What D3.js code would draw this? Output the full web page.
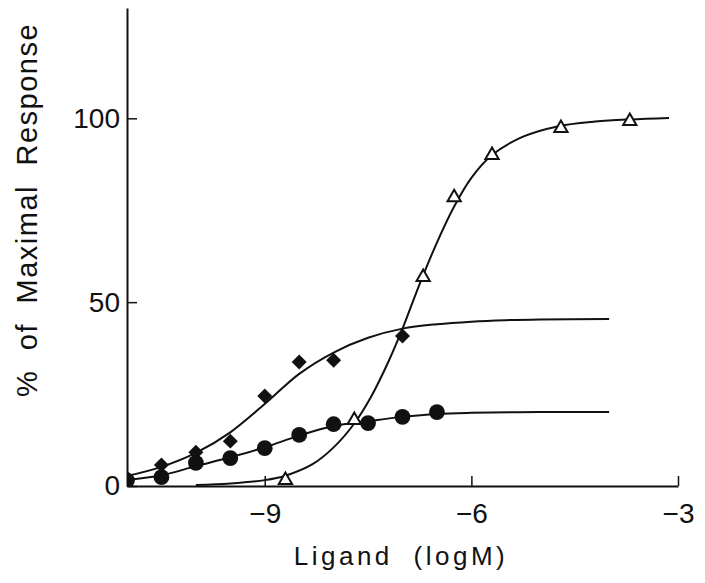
<!DOCTYPE html>
<html>
<head>
<meta charset="utf-8">
<script src="https://cdn.jsdelivr.net/npm/d3@7"></script>
<style>
  body { margin: 0; background: #fff; }
  text { font-family: "Liberation Sans", Arial, sans-serif; fill: #111; }
</style>
</head>
<body>
<script>
// Variables
const w = 705;
const h = 583;

// Tick values
const xTicks = [-9, -6, -3];
const yTicks = [0, 50, 100];

// Diamonds (filled)
const diamondX = [-11, -10.5, -10, -9.5, -9, -8.5, -8, -7];
const diamondY = [2.2, 5.7, 9.2, 12.2, 24.5, 33.7, 34.2, 40.8];

// Circles (filled)
const circleX = [-11, -10.5, -10, -9.5, -9, -8.5, -8, -7.5, -7, -6.5];
const circleY = [1.5, 2.4, 6.3, 7.6, 10.3, 13.9, 16.8, 17.1, 18.8, 20.1];

// Triangles (open)
const triangleX = [-8.7, -7.7, -6.7, -6.25, -5.7, -4.7, -3.7];
const triangleY = [1.6, 17.9, 56.8, 78.5, 90.0, 97.3, 99.2];

// Curves
const diamondCurveX = [-11, -10.5, -10, -9.5, -9, -8.5, -8, -7.5, -7, -6.5, -6, -5.5, -5, -4];
const diamondCurveY = [2.7, 5.2, 9.0, 14.6, 22.3, 30.5, 36.3, 40.3, 42.8, 44.0, 44.7, 45.1, 45.3, 45.4];

const circleCurveX = [-11, -10.5, -10, -9.5, -9, -8.5, -8, -7.5, -7, -6.5, -6, -5, -4];
const circleCurveY = [1.6, 2.9, 5.4, 7.8, 10.5, 13.7, 16.3, 17.6, 18.8, 19.6, 19.9, 20.1, 20.1];

const triangleCurveX = [-10, -9.5, -9, -8.7, -8.3, -8.0, -7.7, -7.45, -7.2, -7.0, -6.75, -6.5, -6.25, -6.0, -5.7, -5.25, -4.75, -4.2, -3.7, -3.13];
const triangleCurveY = [0.3, 0.7, 1.6, 2.8, 6.0, 10.5, 17.0, 24.5, 34.0, 42.8, 55.0, 66.2, 76.0, 83.8, 90.0, 95.0, 97.8, 99.1, 99.7, 100.1];

const zip = (xs, ys) => xs.map((x, i) => [x, ys[i]]);

// SVG
const svg = d3.select("body")
    .append("svg")
    .attr("width", w)
    .attr("height", h);

// Escalas
const xScale = d3.scaleLinear().domain([-11, -3]).range([127, 678]);
const yScale = d3.scaleLinear().domain([0, 130]).range([486, 8]);

// Clip al área del gráfico
svg.append("clipPath")
    .attr("id", "plot")
    .append("rect")
    .attr("x", xScale(-11))
    .attr("y", yScale(130))
    .attr("width", w - xScale(-11))
    .attr("height", yScale(0) - yScale(130));

const plot = svg.append("g").attr("clip-path", "url(#plot)");

const line = d3.line()
    .x(d => xScale(d[0]))
    .y(d => yScale(d[1]))
    .curve(d3.curveCatmullRom.alpha(0.5));

[zip(diamondCurveX, diamondCurveY), zip(circleCurveX, circleCurveY), zip(triangleCurveX, triangleCurveY)]
    .forEach(pts => {
        plot.append("path")
            .attr("d", line(pts))
            .attr("fill", "none")
            .attr("stroke", "#111")
            .attr("stroke-width", 2);
    });

// Marcadores
plot.selectAll(".dot")
    .data(zip(circleX, circleY))
    .enter()
    .append("path")
    .attr("class", "dot")
    .attr("d", d3.symbol(d3.symbolCircle, 195)())
    .attr("transform", d => `translate(${xScale(d[0])},${yScale(d[1])})`)
    .attr("fill", "#111");

plot.selectAll(".diamond")
    .data(zip(diamondX, diamondY))
    .enter()
    .append("path")
    .attr("class", "diamond")
    .attr("d", d3.symbol(d3.symbolSquare, 112)())
    .attr("transform", d => `translate(${xScale(d[0])},${yScale(d[1])}) rotate(45)`)
    .attr("fill", "#111");

plot.selectAll(".tri")
    .data(zip(triangleX, triangleY))
    .enter()
    .append("path")
    .attr("class", "tri")
    .attr("d", d3.symbol(d3.symbolTriangle, 76)())
    .attr("transform", d => `translate(${xScale(d[0])},${yScale(d[1])})`)
    .attr("fill", "#fff")
    .attr("stroke", "#111")
    .attr("stroke-width", 2);

// Eje X
const xAxis = d3.axisBottom(xScale)
    .tickValues(xTicks)
    .tickSizeInner(-10)
    .tickSizeOuter(0)
    .tickPadding(17);

const gx = svg.append("g")
    .attr("transform", `translate(0, ${yScale(0)})`)
    .call(xAxis);

// Eje Y
const yAxis = d3.axisLeft(yScale)
    .tickValues(yTicks)
    .tickSizeInner(-10)
    .tickSizeOuter(0)
    .tickPadding(7);

const gy = svg.append("g")
    .attr("transform", `translate(${xScale(-11)}, 0)`)
    .call(yAxis);

[gx, gy].forEach(g => {
    g.select(".domain").attr("stroke", "#111").attr("stroke-width", 2);
    g.selectAll(".tick line").attr("stroke", "#111").attr("stroke-width", 1.5);
    g.selectAll(".tick text")
        .attr("font-family", "Liberation Sans, Arial, sans-serif")
        .attr("font-size", 28)
        .attr("fill", "#111");
});

// Títulos
svg.append("text")
    .attr("x", 401)
    .attr("y", 565)
    .attr("text-anchor", "middle")
    .attr("font-size", 26)
    .attr("letter-spacing", 3.5)
    .attr("word-spacing", 10)
    .text("Ligand (logM)");

svg.append("text")
    .attr("transform", "translate(37, 210) rotate(-90)")
    .attr("text-anchor", "middle")
    .attr("font-size", 29)
    .attr("letter-spacing", 1.5)
    .attr("word-spacing", 10)
    .text("% of Maximal Response");
</script>
</body>
</html>
